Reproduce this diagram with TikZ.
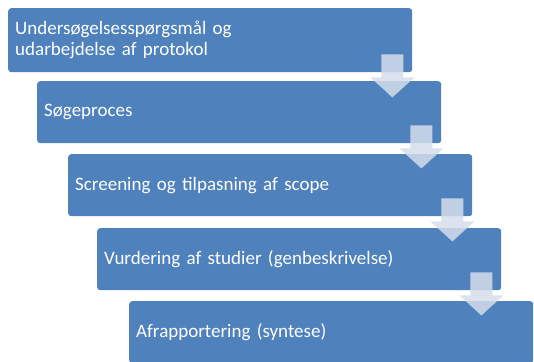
\documentclass[tikz,border=0pt]{standalone}
\usepackage{fontspec}
\setmainfont{Carlito}
\usetikzlibrary{calc}
\definecolor{boxblue}{HTML}{4F81BD}
\definecolor{arrowc}{RGB}{214,221,235}
\tikzset{
  stepbox/.style={draw=none, fill=boxblue, rounded corners=3pt, anchor=north west,
    minimum width=404pt, minimum height=63pt, text width=390pt, inner xsep=7pt,
    align=left, text=white, font=\fontsize{19pt}{21pt}\selectfont},
  flowarrow/.style={fill=arrowc, fill opacity=0.85, draw=none}
}
\newcommand\downarrowshape[1]{%
  \fill[flowarrow] ($(#1.south east)+(-31,-18)$) -- ($(#1.south east)+(-9,-18)$)
    -- ($(#1.south east)+(-9,5)$) -- ($(#1.south east)+(2,5)$)
    -- ($(#1.south east)+(-20,25)$) -- ($(#1.south east)+(-42,5)$)
    -- ($(#1.south east)+(-31,5)$) -- cycle;}
\begin{document}
\begin{tikzpicture}[x=1pt,y=-1pt]
\useasboundingbox (0,0) rectangle (534,361);
\node[stepbox, minimum height=64pt] (b1) at (8,8) {Undersøgelsesspørgsmål og\\udarbejdelse af protokol};
\node[stepbox, minimum height=62pt] (b2) at (37,81) {Søgeproces};
\node[stepbox, minimum height=62pt] (b3) at (68,154) {Screening og tilpasning af scope};
\node[stepbox, minimum height=62pt] (b4) at (97,228) {Vurdering af studier (genbeskrivelse)};
\node[stepbox, minimum height=62pt] (b5) at (129,301) {Afrapportering (syntese)};
\downarrowshape{b1}
\downarrowshape{b2}
\downarrowshape{b3}
\downarrowshape{b4}
\end{tikzpicture}
\end{document}
